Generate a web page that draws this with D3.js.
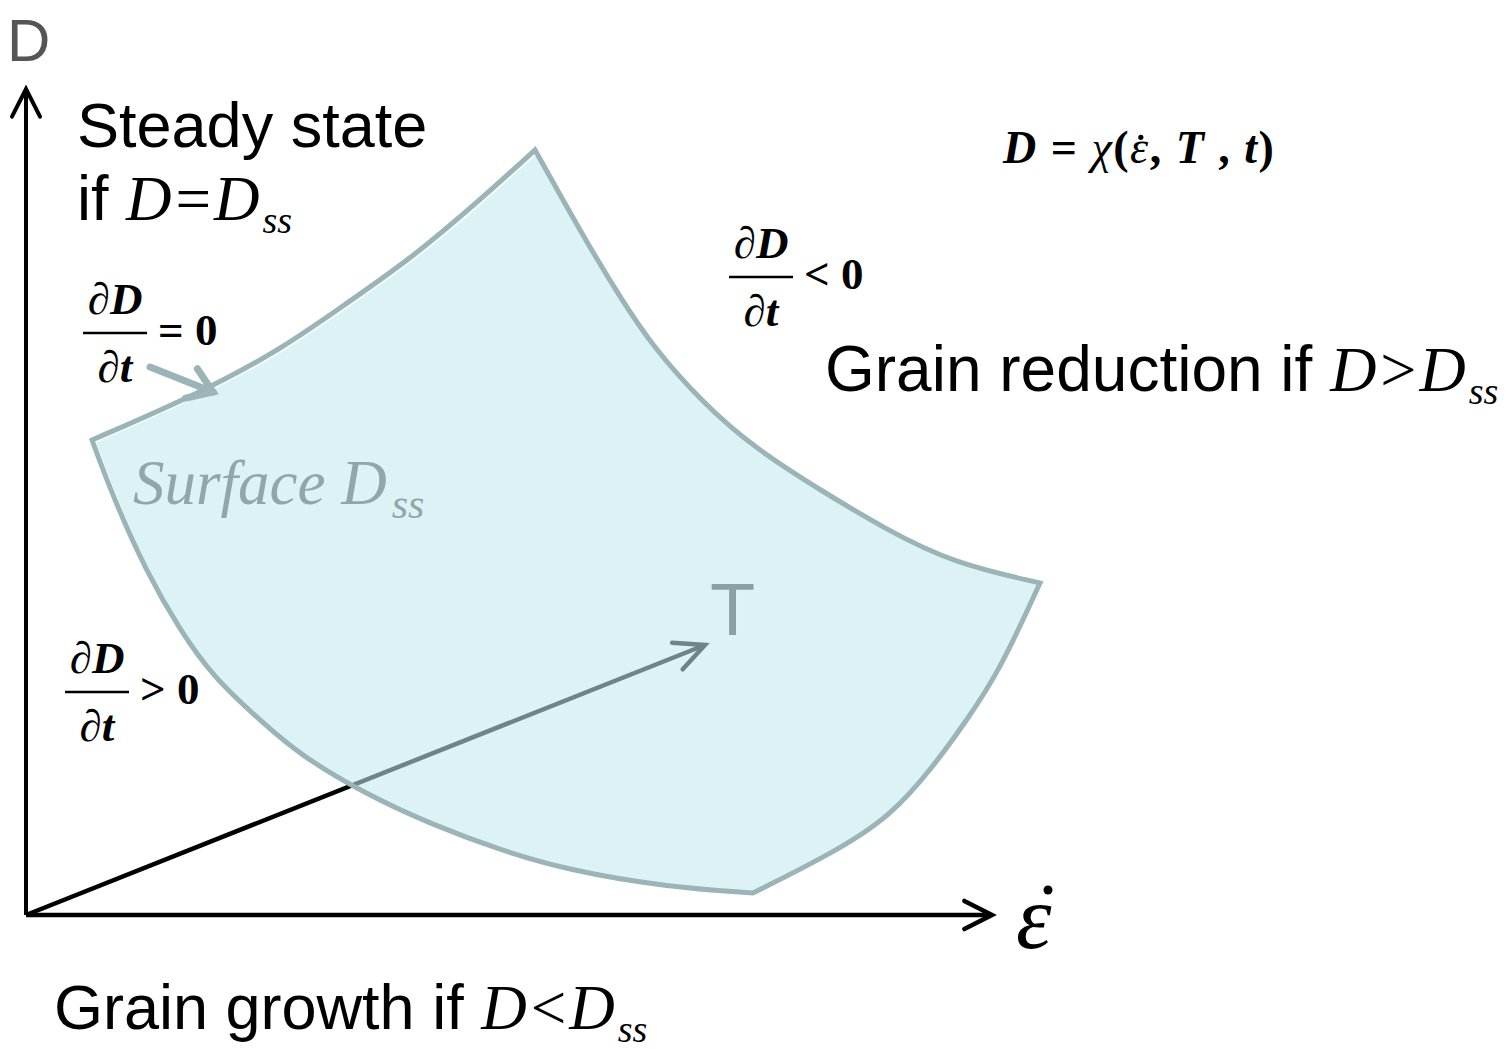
<!DOCTYPE html>
<html>
<head>
<meta charset="utf-8">
<script src="https://cdn.jsdelivr.net/npm/d3@7"></script>
<style>
  html, body { margin: 0; padding: 0; background: #fff; }
  svg { display: block; }
</style>
</head>
<body>
<div id="chart"></div>
<script>
// surface D_ss outline, in axis units (strain rate along x, grain size D up)
const topEdge = [[66, 475], [174, 522], [254, 565], [321, 612], [387, 658], [454, 715], [509, 765]]
const rightEdge = [[509, 765], [561, 672], [594, 618], [627, 568], [677, 512], [727, 468], [794, 425], [861, 385], [927, 352], [1014, 332]]
const lowerRightEdge = [[1014, 332], [974, 245], [941, 195], [907, 148], [864, 98], [807, 62], [727, 22]]
const lowerLeftEdge = [[727, 22], [641, 28], [541, 45], [474, 65], [407, 90], [341, 120], [274, 160], [237, 192], [187, 238], [154, 285], [121, 342], [87, 418], [66, 475]]

// temperature axis drawn in perspective
const tAxis = [[0, 0], [679, 270]]

const axisLabels = { d: "D", strain: "\u03B5", temp: "T" }

const width = 1511
const height = 1049
const origin = { x: 26, y: 915 }

const xScale = d3.scaleLinear()
  .domain([0, 965])
  .range([origin.x, origin.x + 965])
const yScale = d3.scaleLinear()
  .domain([0, 825])
  .range([origin.y, origin.y - 825])

const svg = d3.select("#chart")
  .append("svg")
    .attr("width", width)
    .attr("height", height)

const line = d3.line()
  .x(d => xScale(d[0]))
  .y(d => yScale(d[1]))

const smooth = d3.line()
  .x(d => xScale(d[0]))
  .y(d => yScale(d[1]))
  .curve(d3.curveBasis)

// open chevron arrow head at the end of a segment
function arrowHead(g, from, to, len, spread, color, w) {
  const x1 = xScale(from[0]), y1 = yScale(from[1])
  const x2 = xScale(to[0]), y2 = yScale(to[1])
  const a = Math.atan2(y2 - y1, x2 - x1)
  const pts = [
    [x2 - len * Math.cos(a - spread), y2 - len * Math.sin(a - spread)],
    [x2, y2],
    [x2 - len * Math.cos(a + spread), y2 - len * Math.sin(a + spread)],
  ]
  g.append("path")
    .attr("d", d3.line()(pts))
    .attr("fill", "none")
    .attr("stroke", color)
    .attr("stroke-width", w)
    .attr("stroke-linecap", "round")
    .attr("stroke-linejoin", "miter")
}

const axes = svg.append("g")

// D axis
axes.append("path")
  .attr("d", line([[0, 0], [0, 825]]))
  .attr("stroke", "#000")
  .attr("stroke-width", 4)
arrowHead(axes, [0, 0], [0, 826], 31, 0.47, "#000", 4)

// strain rate axis
axes.append("path")
  .attr("d", line([[0, 0], [965, 0]]))
  .attr("stroke", "#000")
  .attr("stroke-width", 4.5)
arrowHead(axes, [0, 0], [966, 0], 31, 0.47, "#000", 4.5)

// temperature axis (sits under the translucent surface)
axes.append("path")
  .attr("d", line(tAxis))
  .attr("stroke", "#000")
  .attr("stroke-width", 4.5)
arrowHead(axes, tAxis[0], tAxis[1], 33, 0.45, "#000", 4.5)

// surface
const edges = [topEdge, rightEdge, lowerRightEdge, lowerLeftEdge]
const surfacePath = edges
  .map((e, i) => i === 0 ? smooth(e) : smooth(e).replace(/^M/, "L"))
  .join("") + "Z"

svg.append("path")
  .attr("d", surfacePath)
  .attr("fill", "rgb(195,233,237)")
  .attr("fill-opacity", 0.57)
  .attr("stroke", "none")

// faint white highlight inside the outline
svg.append("path")
  .attr("d", surfacePath)
  .attr("fill", "none")
  .attr("stroke", "#fff")
  .attr("stroke-width", 2)
  .attr("transform", "translate(3,2)")
  .attr("opacity", 0.8)

svg.append("path")
  .attr("d", surfacePath)
  .attr("fill", "none")
  .attr("stroke", "#9bb4b7")
  .attr("stroke-width", 5)
  .attr("stroke-linejoin", "miter")

// pointer to the surface edge
const pointer = [[124, 548], [187, 523]]
svg.append("path")
  .attr("d", line(pointer))
  .attr("stroke", "#9bb4b7")
  .attr("stroke-width", 7)
  .attr("stroke-linecap", "round")
arrowHead(svg, pointer[0], pointer[1], 28, 0.6, "#9bb4b7", 7)

// ---------- text ----------
const sans = "'Liberation Sans', Arial, sans-serif"
const serif = "'Liberation Serif', 'Times New Roman', serif"

svg.append("text")
  .attr("x", 7).attr("y", 61)
  .attr("font-family", sans).attr("font-size", 60)
  .attr("fill", "#555")
  .text(axisLabels.d)

svg.append("text")
  .attr("x", xScale(684)).attr("y", yScale(280))
  .attr("font-family", sans).attr("font-size", 74)
  .attr("fill", "#8c9fa2")
  .text(axisLabels.temp)

// strain rate symbol with dot
svg.append("text")
  .attr("x", 1016).attr("y", 948)
  .attr("font-family", serif).attr("font-size", 90)
  .attr("font-style", "italic")
  .attr("fill", "#000")
  .text(axisLabels.strain)
svg.append("circle")
  .attr("cx", 1048).attr("cy", 890).attr("r", 4.5)
  .attr("fill", "#000")

// label with italic D and subscript
function condLabel(x, y, prefix, rel, size) {
  const t = svg.append("text")
    .attr("x", x).attr("y", y)
    .attr("font-family", sans).attr("font-size", size)
    .attr("fill", "#000")
  t.append("tspan").text(prefix)
  t.append("tspan")
    .attr("font-family", serif).attr("font-style", "italic")
    .text("D" + rel + "D")
  t.append("tspan")
    .attr("font-family", serif).attr("font-style", "italic")
    .attr("font-size", 38).attr("dy", 13).attr("dx", 3)
    .text("ss")
}

svg.append("text")
  .attr("x", 77).attr("y", 147)
  .attr("font-family", sans).attr("font-size", 63)
  .text("Steady state")
condLabel(77, 220, "if ", "=", 63)
condLabel(825, 391, "Grain reduction if ", ">", 64)
condLabel(54, 1029, "Grain growth if ", "<", 63)

// surface name
const sname = svg.append("text")
  .attr("x", 133).attr("y", 504)
  .attr("font-family", serif).attr("font-style", "italic")
  .attr("font-size", 63)
  .attr("fill", "#90a7aa")
sname.append("tspan").text("Surface D")
sname.append("tspan").attr("font-size", 42).attr("dy", 14).attr("dx", 5).text("ss")

// dD/dt fractions
function fraction(x, lineY, rel) {
  const g = svg.append("g").attr("font-family", serif).attr("font-weight", "bold").attr("fill", "#000")
  const w = 64
  g.append("line")
    .attr("x1", x).attr("x2", x + w)
    .attr("y1", lineY).attr("y2", lineY)
    .attr("stroke", "#000").attr("stroke-width", 2.5)
  const num = g.append("text")
    .attr("x", x + w / 2).attr("y", lineY - 19)
    .attr("text-anchor", "middle").attr("font-size", 45)
  num.append("tspan").attr("font-weight", "normal").text("\u2202")
  num.append("tspan").attr("font-style", "italic").text("D")
  const den = g.append("text")
    .attr("x", x + w / 2).attr("y", lineY + 49)
    .attr("text-anchor", "middle").attr("font-size", 45)
  den.append("tspan").attr("font-weight", "normal").text("\u2202")
  den.append("tspan").attr("font-style", "italic").text("t")
  g.append("text")
    .attr("x", x + w + 11).attr("y", lineY + 12)
    .attr("font-size", 45)
    .attr("xml:space", "preserve")
    .text(rel + " 0")
}
fraction(83, 333, "=")
fraction(729, 277, "<")
fraction(65, 692, ">")

// governing relation
const eq = svg.append("text")
  .attr("x", 1003).attr("y", 163)
  .attr("font-family", serif).attr("font-size", 46)
  .attr("font-weight", "bold")
  .attr("letter-spacing", 1.5)
  .attr("xml:space", "preserve")
eq.append("tspan").attr("font-style", "italic").text("D")
eq.append("tspan").text(" = ")
eq.append("tspan").attr("font-style", "italic").attr("font-weight", "normal").text("\u03C7")
eq.append("tspan").text("(")
eq.append("tspan").attr("font-style", "italic").attr("font-weight", "normal").text("\u03B5")
eq.append("tspan").text(", ")
eq.append("tspan").attr("font-style", "italic").text("T")
eq.append("tspan").text(" , ")
eq.append("tspan").attr("font-style", "italic").text("t")
eq.append("tspan").text(")")

// dot over the epsilon in the relation
const epsBox = eq.node().getExtentOfChar(6)
svg.append("circle")
  .attr("cx", epsBox.x + epsBox.width * 0.55)
  .attr("cy", epsBox.y + epsBox.height * 0.3)
  .attr("r", 2.6)
  .attr("fill", "#000")
</script>
</body>
</html>
